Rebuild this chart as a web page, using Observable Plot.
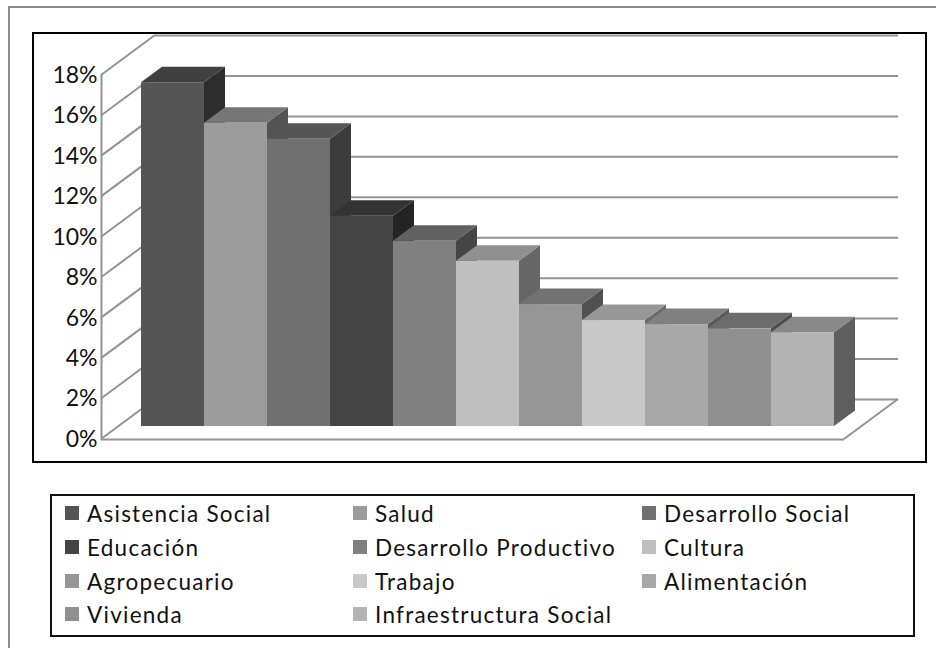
<!DOCTYPE html>
<html><head><meta charset="utf-8">
<script src="https://cdn.jsdelivr.net/npm/d3@7"></script>
<script src="https://cdn.jsdelivr.net/npm/@observablehq/plot@0.6"></script>
<style>
html,body{margin:0;padding:0;background:#fff;width:936px;height:648px;overflow:hidden}
#outer{position:absolute;left:8px;top:6px;width:940px;height:660px;border:2px solid #8c8c8c;box-sizing:border-box}
#box{position:absolute;left:32px;top:32px;width:895px;height:431px;border:2px solid #000;box-sizing:border-box}
#plot{position:absolute;left:0;top:0}
#legend{position:absolute;left:50px;top:494px;width:865px;height:143px;border:2px solid #111;box-sizing:border-box;
 font-family:Lato,sans-serif;font-size:22.5px;letter-spacing:1.25px;color:#111}
.it{position:absolute;white-space:nowrap;line-height:24px}
.sw{position:absolute;width:14px;height:14px}
</style></head><body>
<div id="outer"></div><div id="box"></div><div id="plot"></div><div id="legend"></div>
<script>
const categories=["Asistencia Social","Salud","Desarrollo Social","Educación","Desarrollo Productivo","Cultura","Agropecuario","Trabajo","Alimentación","Vivienda","Infraestructura Social"];
const values=[17.0,15.0,14.2,10.4,9.16,8.17,6.03,5.24,5.04,4.83,4.64];
const frontColors=["#555555","#9c9c9c","#707070","#444444","#808080","#bfbfbf","#969696","#c8c8c8","#a8a8a8","#909090","#b3b3b3"];
const topColors=["#404040","#767676","#555555","#333333","#616161","#909090","#727272","#979797","#808080","#6c6c6c","#888888"];
const sideColors=["#2d2d2d","#535353","#3c3c3c","#242424","#454545","#666666","#505050","#6a6a6a","#595959","#4c4c4c","#5e5e5e"];
const yTicks=[0,2,4,6,8,10,12,14,16,18];
const bars=categories.map((c,i)=>({c,v:values[i],front:frontColors[i],top:topColors[i],side:sideColors[i]}));
const wall={dx:54,dy:-40}, lift=-13, depth={dx:21,dy:-15.5};
const gridColor="#939393";
const svgNS="http://www.w3.org/2000/svg";
function poly(g,pts,fill,stroke,w){
  const p=document.createElementNS(svgNS,fill==="none"?"polyline":"polygon");
  p.setAttribute("points",pts.map(a=>a.join(",")).join(" "));
  p.setAttribute("fill",fill);
  if(stroke){p.setAttribute("stroke",stroke);p.setAttribute("stroke-width",w);}
  g.appendChild(p);
}
// slanted wall and floor edges, from the y scale's ticks
function wallMark(index,scales,vals,dim){
  const g=document.createElementNS(svgNS,"g");
  const L=dim.marginLeft,R=dim.width-dim.marginRight;
  for(const t of yTicks){const y=scales.y(t);
    poly(g,[[L,y],[L+wall.dx,y+wall.dy]],"none",gridColor,2);}
  const y0=scales.y(0);
  poly(g,[[R,y0],[R+wall.dx,y0+wall.dy]],"none",gridColor,2);
  return g;
}
// top and side faces of the bars, read through the x and y scales
function facesMark(index,scales,vals,dim){
  const g=document.createElementNS(svgNS,"g");
  const bw=scales.x.bandwidth();
  for(const b of bars){
    const x0=scales.x(b.c),x1=x0+bw,yt=scales.y(b.v)+lift,yb=scales.y(0)+lift;
    poly(g,[[x1,yt],[x1+depth.dx,yt+depth.dy],[x1+depth.dx,yb+depth.dy],[x1,yb]],b.side);
    poly(g,[[x0,yt],[x0+depth.dx,yt+depth.dy],[x1+depth.dx,yt+depth.dy],[x1,yt]],b.top);
  }
  return g;
}
const chart=Plot.plot({
  width:936,height:470,
  marginLeft:101,marginRight:92,marginTop:75,marginBottom:31,
  style:{background:"transparent",fontFamily:"Lato,sans-serif"},
  x:{type:"band",domain:categories,range:[141,834],padding:0,round:false,axis:null},
  y:{domain:[0,18],ticks:yTicks},
  marks:[
    Plot.ruleY(yTicks,{stroke:gridColor,strokeWidth:2,dx:wall.dx,dy:wall.dy}),
    wallMark,
    Plot.ruleY([0],{stroke:gridColor,strokeWidth:2}),
    Plot.frame({anchor:"left",stroke:gridColor,strokeWidth:2}),
    facesMark,
    Plot.barY(bars,{x:"c",y:"v",fill:"front",dy:lift,inset:0}),
    Plot.axisY(yTicks,{anchor:"left",tickSize:0,tickPadding:4,tickFormat:d=>d+"%",label:null,fontSize:23,fill:"#111"})
  ]
});
chart.style.overflow="visible";
document.getElementById("plot").append(chart);
// legend
const legend=document.getElementById("legend");
const colX=[13,301,590], rowY=[5,39,73,106];
categories.forEach((c,i)=>{
  const col=i%3,row=Math.floor(i/3);
  const s=document.createElement("div");s.className="sw";
  s.style.left=colX[col]+"px";s.style.top=(rowY[row]+5)+"px";s.style.background=frontColors[i];
  const t=document.createElement("div");t.className="it";t.textContent=c;
  t.style.left=(colX[col]+22)+"px";t.style.top=(rowY[row]+1)+"px";
  legend.append(s,t);
});
</script></body></html>
